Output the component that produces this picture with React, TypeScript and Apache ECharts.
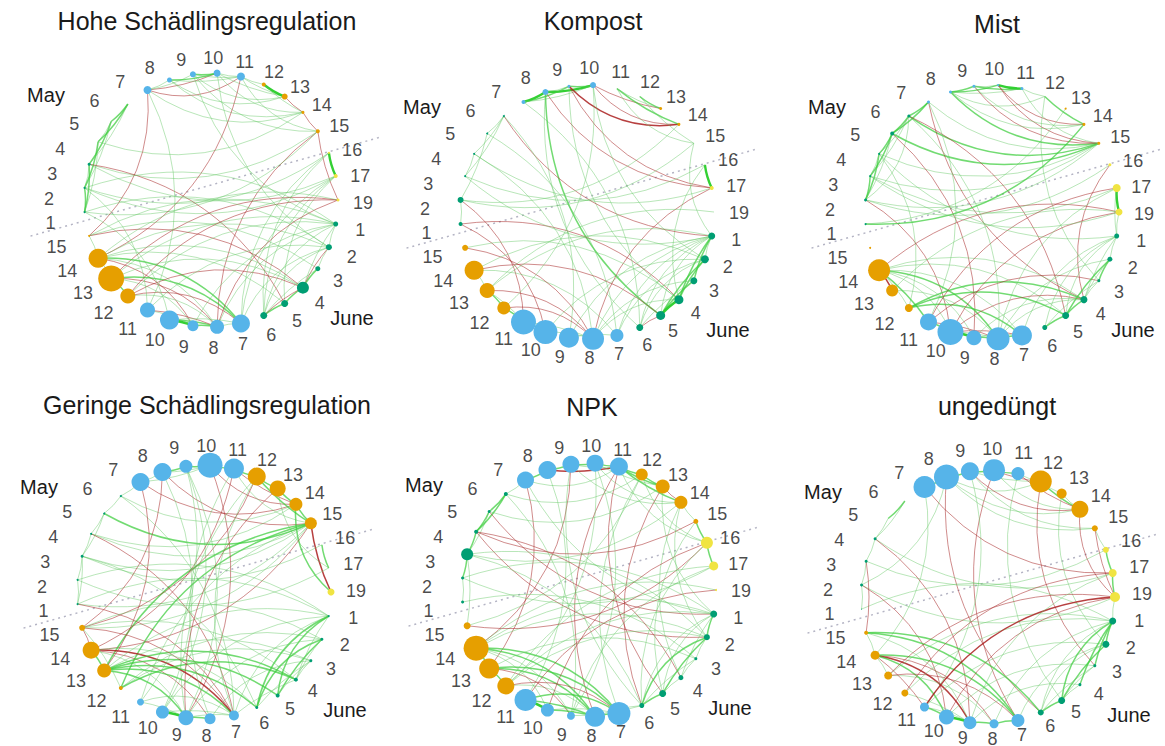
import React, { useEffect, useRef } from "react";
import * as echarts from "echarts";

// ---------------- DATA ----------------
const nodeIds = ["M1","M2","M3","M4","M5","M6","M7","M8","M9","M10","M11","M12","M13","M14","M15","M16","M17","M19",
  "J1","J2","J3","J4","J5","J6","J7","J8","J9","J10","J11","J12","J13","J14","J15"];
const nodeLabels = ["1","2","3","4","5","6","7","8","9","10","11","12","13","14","15","16","17","19",
  "1","2","3","4","5","6","7","8","9","10","11","12","13","14","15"];
const panelTitles = ["Hohe Schädlingsregulation", "Kompost", "Mist", "Geringe Schädlingsregulation", "NPK", "ungedüngt"];
const monthLabels = ["May", "June"];

// node diameters in nodeIds order
const sizesHohe = [2,2,3,0,0,0, 8,5,6,7,8, 4,6,3,4, 2,4,3, 5,6,5,12,7,7, 18,14,11,19,15, 15,26,19,2];
const sizesKompost = [4,6,2,2,2,2, 4,6,3,6,0, 0,3,3,0, 0,4,0, 7,8,7,9,9,7, 13,22,20,24,25, 13,15,19,6];
const sizesMist = [2,3,2,2,4,3, 3,3,3,2,3, 0,2,3,3, 3,8,7, 5,5,3,7,7,5, 20,23,15,26,17, 8,12,22,2];
const sizesGeringe = [2,2,3,2,2,2, 18,18,13,25,20, 18,16,13,12, 0,0,7, 2,3,3,4,4,3, 10,11,15,13,7, 4,14,17,6];
const sizesNPK = [3,3,12,4,3,4, 17,18,17,17,18, 12,14,13,5, 12,9,2, 7,6,3,5,7,5, 23,20,8,13,22, 17,20,25,7];
const sizesUngeduengt = [1,3,3,3,0,0, 22,25,18,22,13, 22,10,17,6, 6,8,10, 7,7,3,3,7,6, 13,9,13,15,9, 7,8,9,4];

// edges: "source target weight"  (weight > 0 positive/green, < 0 negative/red)
const edgesHohe = [
  "M1 M2 2","M1 M3 2","M2 M3 1","M2 M4 2","M3 M5 2","M4 M5 1","M4 M6 2","M5 M6 2","M3 M6 1","M2 M5 1","M1 M4 1",
  "M7 M10 -1","M7 M11 -1","M7 M9 1","M8 M10 2","M9 M10 2","M9 M11 1","M10 M11 1","M8 M11 1","M7 M8 1",
  "M8 M13 1","M8 M14 1","M9 M13 1","M9 M15 1","M10 M13 1","M10 M14 1","M11 M13 1","M11 M15 1","M7 M14 1","M12 M13 3","M13 M14 -1","M14 M15 -1","M12 M14 1","M11 M12 1","M10 J2 1","M9 J1 1",
  "M16 M17 3","M15 M19 -1","M15 J8 -1","M17 J6 1","M17 J5 1","M16 J6 1",
  "M1 M15 1","M2 M16 1","M3 M15 1","M3 J5 -1","M4 M14 1","M2 M17 1","J15 M7 -1","M11 J14 -1","M19 J13 -1",
  "J13 J14 1","J14 J15 1","J12 J13 2","J13 J8 -1","J14 J9 -1","J14 J7 2","J13 J7 2","J14 J8 1","J12 J7 -1","J12 J8 1","J13 J9 1","J10 J9 3","J10 J8 2","J11 J9 1","J11 J8 -1","J10 J7 1","J9 J8 2","J8 J7 1",
  "J14 J4 1","J13 J4 1","J15 J3 1","J14 J2 1","J13 J1 1","J12 J4 -1","J15 J4 -1","J14 J5 1","J12 J1 1","J11 J2 1",
  "J1 J2 1","J2 J3 1","J3 J4 2","J2 J4 -1","J4 J5 2","J5 J6 2","J4 J6 -1","J6 J3 1","J1 J4 1","J1 J6 1","J2 J6 1",
  "J7 M17 1","J7 M16 1","J8 J1 1","J7 J2 1","J8 M19 -1","J9 J1 1",
  "M1 J10 1","M2 J11 1","M7 J11 1","M19 J12 -1","J14 M19 1","J15 J1 1","M2 J1 1","M3 M17 1","M1 J2 1"
];
const edgesKompost = [
  "M7 M8 3","M8 M10 3","M7 M9 2","M9 M10 2","M8 M9 1","M7 M10 1",
  "M9 M14 -2","M10 M14 -1","M10 M13 -1","M11 M14 2","M12 M13 2","M11 M13 1","M12 M15 1","M11 M15 1",
  "M8 M17 -1","M9 M17 -1","M8 J5 2","M9 J4 1","M8 J6 1","M10 J2 1","M16 M17 3","M17 J8 -1","M15 J1 1","M16 J4 1",
  "M1 M2 1","M2 M5 1","M3 M4 1","M4 M6 1","M3 M6 1","M5 M6 1","M2 J11 -1","M1 J10 -1","M1 J4 -1","M3 J1 1","M4 M17 1","M6 J1 -1","M5 J7 1","M6 J9 1","M3 M16 1","M2 M15 1","M2 M14 1",
  "J11 J10 2","J13 J12 2","J14 J13 1","J12 J8 -1","J13 J8 -1","J14 J5 -1","J14 J7 1","J12 J11 2","J13 J11 1","J15 J8 -1","J11 J8 1","J10 J8 1","J9 J7 1",
  "J1 J2 1","J1 J3 2","J1 J4 2","J1 J5 1","J2 J4 2","J2 J5 2","J3 J5 2","J4 J5 3","J3 J6 1","J5 J6 -1","J1 J6 1","J2 J6 1",
  "J8 J1 1","J7 J2 1","J8 J3 1","J9 J1 1","J7 J1 1","J10 J2 1","J8 J4 1","J15 J4 1","J14 J2 1","J13 J1 1",
  "M4 J8 1","M7 J6 1","M10 J12 1","M19 J13 1"
];
const edgesMist = [
  "M2 M3 2","M2 M4 2","M3 M5 2","M4 M5 2","M5 M6 2","M4 M6 1","M6 M7 2","M5 M7 2","M2 M5 1","M3 M6 1","M2 M6 1","M3 M4 1",
  "M8 M9 2","M8 M10 2","M9 M11 2","M10 M11 3","M8 M11 1","M9 M10 1","M8 M12 1","M11 M12 1",
  "M8 M15 2","M9 M15 -1","M10 M15 -1","M5 M15 2","M6 M15 2","M4 M15 1","M3 M15 1","M7 M15 1","M11 M15 1","M2 M15 1","M12 M14 2","M8 M14 1","M10 M14 -1","M9 M14 1",
  "M16 J4 -1","M12 J3 1","M17 M19 3","M17 J1 1","M19 J1 1",
  "M2 J10 -1","M5 J9 -1","M7 J4 -1","M6 J5 -1","M4 J12 1","M1 M14 2","M1 M13 1","M7 J11 1",
  "J14 J13 -2","J14 J12 1","J14 J11 2","J14 J10 1","J14 J9 1","J14 J8 2","J14 J7 1","J14 M19 -1","J14 J4 1","J14 J5 1","J12 J7 2","J12 J5 2","J12 J4 2","J13 J8 1","J13 M19 1",
  "J10 J11 2","J10 J9 3","J9 J8 2","J8 J7 2","J10 J8 1","J11 J8 -1","J10 J7 -1","J9 J7 1",
  "J11 M17 -1","J10 M19 -1","J8 M17 1","J7 J1 1","J8 J2 1","J9 J4 1","J10 J4 -1","J11 J3 -1","J8 J4 1",
  "J1 J2 1","J2 J3 2","J3 J4 1","J4 J5 2","J5 J6 2","J1 J4 1","J1 J5 1","J2 J5 2","J2 J4 1","J1 J6 1","J3 J6 1",
  "M4 J1 1","M3 M19 1","M6 J8 1","M3 M17 1","M2 M16 1"
];
const edgesGeringe = [
  "M7 M8 1","M8 M9 2","M9 M10 2","M10 M11 2","M8 M10 1","M7 M10 1","M11 M12 2","M12 M13 2","M13 M14 2","M14 M15 2","M11 M14 -1","M10 M14 -1","M7 M14 -1","M8 M15 -1","M12 M15 2","M11 M15 1",
  "M15 M19 -2","M14 M19 2","M13 M17 1","M16 M17 2",
  "M15 J14 -1","M15 J13 2","M15 J12 2","M15 M1 1","M15 M3 1","M15 J15 1","M15 M4 1","M15 J11 1",
  "M10 J9 -1","M9 J9 1","M9 J10 1","M11 J14 -1","M12 J9 1","M12 J15 -1",
  "M1 M2 1","M2 M3 1","M3 M4 1","M4 M5 1","M5 M6 1","M6 M7 1","M1 M3 1","M3 M5 1","M5 M15 2","M6 M14 1","M4 M14 1","M3 M16 1","M2 M17 1","M4 J7 -1","M6 J7 1","M1 J7 -1","M3 J6 1",
  "J13 J14 2","J14 J15 -1","J14 J7 -2","J14 J8 -1","J13 J7 2","J13 J6 2","J13 J5 2","J13 J4 2","J12 J4 2","J12 J3 1","J14 J9 1","J13 J9 2","J15 J7 -1","J14 J6 1","J15 J12 1",
  "J10 J9 3","J9 J8 2","J11 J9 1","J10 J7 1","J9 J7 1","J11 J7 1",
  "J7 J1 1","J6 J1 2","J6 J2 2","J5 J1 2","J5 J2 2","J4 J2 1","J4 J1 1","J6 J3 1","J5 J3 1","J4 J3 1","J7 J4 1","J10 J1 1","J9 J2 1","J8 J3 1",
  "J1 M1 1","J2 J15 1","J1 J13 1","J2 J12 1","J3 J13 1","J4 J15 1",
  "M7 J13 -1","M8 J15 -1","J8 M11 1","J9 M13 -1","J7 M12 1","J11 M9 1","J10 M8 1","M2 J1 1"
];
const edgesNPK = [
  "M7 M8 2","M8 M9 2","M9 M10 2","M10 M11 2","M8 M11 -2","M7 M11 1","M9 M11 1","M11 M12 2","M11 M13 2","M11 M14 2","M10 M13 1","M10 M14 1","M9 M14 1","M12 M13 2","M13 M14 -1","M14 M15 1","M15 M16 2","M16 M17 2","M12 M16 1","M11 M16 1",
  "M11 J5 -1","M11 J8 -1","M10 J9 1","M10 J12 1","M9 J14 -1","M8 J11 1","M7 J13 -1","M12 J7 1","M13 J6 -1","M14 J4 1","M12 J15 1","M9 J6 1",
  "M1 M2 1","M2 M3 2","M3 M4 2","M4 M5 2","M5 M6 2","M3 M5 1","M4 M6 2","M6 M7 1","M3 M14 1","M4 M15 -1","M5 M13 1","M6 M12 1","M4 J2 -1","M2 J1 1","M1 J3 1","M4 J4 -1","M3 J6 1","M2 M17 1","M5 J1 -1","M6 J9 1",
  "J14 J13 2","J13 J12 2","J14 J7 2","J14 J8 2","J13 J8 2","J13 J7 2","J12 J8 1","J14 J9 1","J14 J10 1","J12 J7 -1","J13 J9 -1","J15 M3 1","J14 J2 1","J14 J1 1","J13 J3 1","J15 M16 -1","J14 M19 1","J12 J2 1",
  "J11 J10 3","J10 J8 2","J11 J8 2","J11 J7 2","J9 J8 1","J8 J7 2","J10 J7 1",
  "J1 J2 2","J2 J3 1","J3 J4 1","J4 J5 1","J5 J6 2","J1 J4 1","J2 J5 2","J1 J6 1","J3 J6 1","J2 J6 2","J1 J5 1","J6 J8 1","J6 J7 1",
  "M17 J9 1","M16 J10 -1","M19 J11 -1","M17 J12 1","J1 J12 1","J2 M3 1","J1 M7 1","M16 J6 1","M15 J5 1","M14 J2 1","M13 J1 1"
];
const edgesUngeduengt = [
  "M7 M8 2","M8 M9 2","M9 M10 2","M10 M11 2","M10 M12 -1","M11 M12 1","M8 M12 1","M9 M12 1","M12 M13 1","M13 M14 1","M12 M14 2","M11 M14 -1","M8 M14 1","M9 M14 -1","M10 M14 1","M8 M15 1","M9 M15 1",
  "M15 M16 1","M16 M17 2","M17 M19 2","M15 M19 -1","M14 M19 -1",
  "M8 J6 -1","M10 J7 -1","M11 J5 1","M9 J11 1","M12 J3 -1","M13 J2 1","M7 J14 1","M8 M2 1",
  "M4 M5 1","M5 M6 2","M4 M6 1","M1 M2 1","M2 M3 1","M3 M4 1","M4 M17 1","M3 M16 1","M2 M19 1","M1 J1 1","M4 J9 -1","M2 J10 -1","M3 J15 -1",
  "J15 J14 1","J14 J13 1","J14 J9 -2","J14 J8 -1","J14 J10 2","J14 J7 2","J15 J7 2","J15 J6 2","J13 J8 1","J13 J7 -1","J12 J9 1","J15 J9 1","J14 J11 -1","J12 J1 1","J13 J1 1",
  "J11 J10 2","J10 J9 3","J9 J8 2","J8 J7 2","J11 J9 1",
  "J11 M19 -2","J10 M19 -1","J12 M17 -1","J13 M19 -1","J9 M17 1","J8 J1 1","J7 J2 1","J10 J3 1","J11 J2 1","J9 J4 1",
  "J1 J2 2","J1 J3 2","J1 J4 2","J1 J5 2","J2 J5 2","J4 J5 1","J5 J6 2","J3 J6 1","J2 J6 1","J1 J6 1","J3 J5 1",
  "M19 J1 1","M7 M17 -1"
];

// divider between the two sampling months: [radius, angle position]
const dividerLine = [[1.41, 15.13], [1.46, 32.46]];

// ---------------- LAYOUT / STYLE ----------------
const FONT = "'Liberation Sans', Arial, Helvetica, sans-serif";
const R = 127;
const START = 185.4545;
const STEP = 360 / 33;
const panels = [
  { title: panelTitles[0], sizes: sizesHohe, edges: edgesHohe, center: [211, 200], labelShift: [-5, 3], titlePos: [207, 21] },
  { title: panelTitles[1], sizes: sizesKompost, edges: edgesKompost, center: [587, 212], labelShift: [-5, 1], titlePos: [593, 21] },
  { title: panelTitles[2], sizes: sizesMist, edges: edgesMist, center: [992, 212], labelShift: [-5, 2], titlePos: [997, 24] },
  { title: panelTitles[3], sizes: sizesGeringe, edges: edgesGeringe, center: [204, 592], labelShift: [-5, -1], titlePos: [207, 405] },
  { title: panelTitles[4], sizes: sizesNPK, edges: edgesNPK, center: [589, 590], labelShift: [-5, 1], titlePos: [592, 407] },
  { title: panelTitles[5], sizes: sizesUngeduengt, edges: edgesUngeduengt, center: [988, 597], labelShift: [-3, -3], titlePos: [997, 406] },
];

// polar placement of the tick labels (an ellipse-like ring, a little wider than tall)
const LABEL_RX = 157;
const LABEL_RY = 145;
const labelRing = nodeIds.map((_, i) => {
  const thDeg = ((i - 17) * STEP + 360) % 360;
  const delta = -5.5 * Math.exp(-Math.pow((thDeg - 210) / 40, 2)) + 1.3 * Math.exp(-Math.pow((thDeg - 305) / 30, 2));
  const t = ((thDeg + delta) * Math.PI) / 180;
  const x = LABEL_RX * Math.cos(t);
  const y = LABEL_RY * Math.sin(t);
  const rho = Math.sqrt(x * x + y * y) / R;
  const phi = (Math.atan2(y, x) * 180) / Math.PI; // screen angle, clockwise from 3 o'clock
  let pos = 17 + phi / STEP;
  pos = ((pos % 33) + 33) % 33;
  return [rho, pos];
});

function nodeColor(i: number): string {
  const n = parseInt(nodeLabels[i], 10);
  if (n <= 6) return "#009E73";
  if (n <= 11) return "#56B4E9";
  if (n <= 15) return "#E69F00";
  return "#F0E442";
}

function edgeStyle(w: number) {
  if (w >= 3) return { color: "rgb(40,205,40)", width: 2.4, opacity: 0.95 };
  if (w === 2) return { color: "rgb(60,205,60)", width: 1.5, opacity: 0.72 };
  if (w === 1) return { color: "rgb(100,200,100)", width: 1, opacity: 0.45 };
  if (w === -1) return { color: "rgb(170,45,45)", width: 1, opacity: 0.55 };
  return { color: "rgb(170,30,30)", width: 1.5, opacity: 0.85 };
}

// orient every edge so that its curve bends towards the centre of the ring;
// edges between near neighbours stay almost straight
function orientedLink(s: string) {
  const [a, b, w] = s.split(" ");
  const ia = nodeIds.indexOf(a);
  const ib = nodeIds.indexOf(b);
  const cw = (ib - ia + 33) % 33;
  const gap = Math.min(cw, 33 - cw);
  const [src, tgt] = cw <= 16 ? [b, a] : [a, b];
  return {
    source: src,
    target: tgt,
    lineStyle: { ...edgeStyle(Number(w)), curveness: gap <= 3 ? 0.08 : 0.25 },
  };
}

export default function App() {
  const ref = useRef<HTMLDivElement>(null);
  useEffect(() => {
    if (!ref.current) return;
    const chart = echarts.init(ref.current, undefined, { renderer: "svg" });
    const n = panels.length;
    // polar 0..5: node rings; polar 6..11: label rings (radius value 1 = R px in both)
    const polar = [
      ...panels.map((p) => ({ center: p.center, radius: R * 1.5 })),
      ...panels.map((p) => ({ center: [p.center[0] + p.labelShift[0], p.center[1] + p.labelShift[1]], radius: R * 1.5 })),
    ];
    const hiddenAxis = { axisLine: { show: false }, axisTick: { show: false }, splitLine: { show: false }, axisLabel: { show: false } };
    const angleAxis = polar.map((_, k) => ({
      polarIndex: k, type: "value", min: 0, max: 33, interval: 1, startAngle: START, clockwise: true, ...hiddenAxis,
    }));
    const radiusAxis = polar.map((_, k) => ({ polarIndex: k, type: "value", min: 0, max: 1.5, ...hiddenAxis }));
    const graphSeries = panels.map((p, k) => ({
      type: "graph",
      coordinateSystem: "polar",
      polarIndex: k,
      layout: "none",
      symbol: "circle",
      silent: true,
      z: 3,
      label: { show: false },
      emphasis: { disabled: true },
      lineStyle: { curveness: 0.25 },
      data: nodeIds.map((id, i) => ({
        name: id,
        value: [1, i],
        symbolSize: p.sizes[i],
        itemStyle: { color: nodeColor(i) },
      })),
      links: p.edges.map(orientedLink),
    }));
    const dividerSeries = panels.map((p, k) => ({
      type: "line",
      coordinateSystem: "polar",
      polarIndex: k,
      data: dividerLine,
      symbol: "none",
      clip: false,
      silent: true,
      z: 1,
      lineStyle: { type: [2, 4], color: "#b4b4c4", width: 1.5 },
    }));
    const labelSeries = panels.map((p, k) => ({
      type: "scatter",
      coordinateSystem: "polar",
      polarIndex: n + k,
      symbol: "circle",
      symbolSize: 1,
      clip: false,
      silent: true,
      z: 4,
      itemStyle: { color: "rgba(0,0,0,0)" },
      label: {
        show: true, position: "inside", formatter: "{b}", fontSize: 18, color: "#1a1a1a", fontFamily: FONT,
        align: "center", verticalAlign: "middle",
      },
      emphasis: { disabled: true },
      data: labelRing.map((pos, i) => ({ name: nodeLabels[i], value: pos })),
    }));
    const graphics: any[] = [];
    panels.forEach((p) => {
      graphics.push({
        type: "text", x: p.titlePos[0], y: p.titlePos[1],
        style: { text: p.title, fontSize: 25, fontFamily: FONT, fill: "#1a1a1a", align: "center", verticalAlign: "middle" },
      });
      graphics.push({
        type: "text", x: p.center[0] - 165, y: p.center[1] - 105,
        style: { text: monthLabels[0], fontSize: 20, fontFamily: FONT, fill: "#1a1a1a", align: "center", verticalAlign: "middle" },
      });
      graphics.push({
        type: "text", x: p.center[0] + 141, y: p.center[1] + 118,
        style: { text: monthLabels[1], fontSize: 20, fontFamily: FONT, fill: "#1a1a1a", align: "center", verticalAlign: "middle" },
      });
    });
    const option: any = {
      animation: false,
      backgroundColor: "#ffffff",
      polar,
      angleAxis,
      radiusAxis,
      series: [...dividerSeries, ...graphSeries, ...labelSeries],
      graphic: graphics,
    };
    chart.setOption(option);
    return () => chart.dispose();
  }, []);
  return <div ref={ref} style={{ position: "absolute", left: 0, top: 0, width: 1165, height: 746, background: "#fff" }} />;
}
